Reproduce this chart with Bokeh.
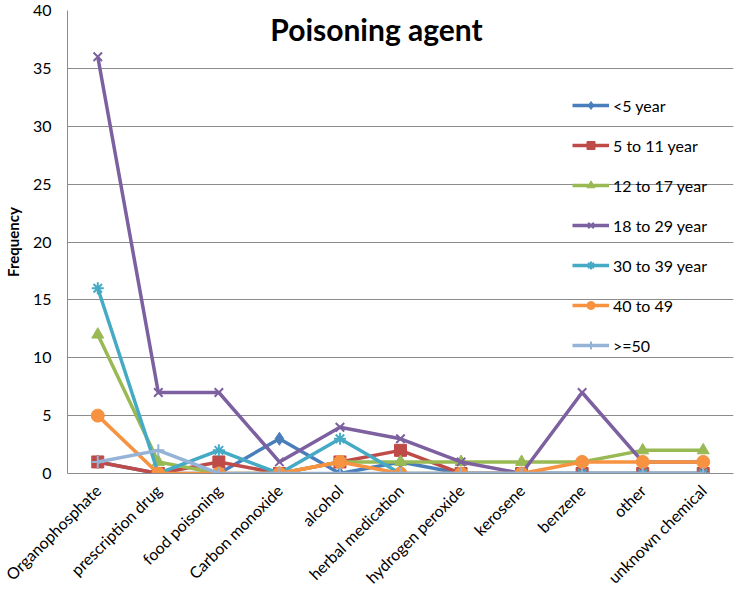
from bokeh.plotting import figure
from bokeh.models import Range1d, FactorRange, Legend, LegendItem, Label, FixedTicker
from bokeh.embed import file_html
from bokeh.resources import INLINE
import math

categories = ["Organophosphate", "prescription drug", "food poisoning", "Carbon monoxide",
              "alcohol", "herbal medication", "hydrogen peroxide", "kerosene", "benzene",
              "other", "unknown chemical"]

age_under5 = [1, 0, 0, 3, 0, 1, 0, 0, 0, 0, 0]
age_5_11 = [1, 0, 1, 0, 1, 2, 0, 0, 0, 0, 0]
age_12_17 = [12, 1, 0, 0, 1, 1, 1, 1, 1, 2, 2]
age_18_29 = [36, 7, 7, 1, 4, 3, 1, 0, 7, 1, 1]
age_30_39 = [16, 0, 2, 0, 3, 0, 0, 0, 0, 0, 0]
age_40_49 = [5, 0, 0, 0, 1, 0, 0, 0, 1, 1, 1]
age_50plus = [1, 2, 0, 0, 0, 0, 0, 0, 0, 0, 0]

y_ticks = [0, 5, 10, 15, 20, 25, 30, 35, 40]

series_names = ["<5 year", "5 to 11 year", "12 to 17 year", "18 to 29 year",
                "30 to 39 year", "40 to 49", ">=50"]
series_values = [age_under5, age_5_11, age_12_17, age_18_29, age_30_39, age_40_49, age_50plus]
colors = ["#4A7EBB", "#BE4B48", "#98B954", "#7D60A0", "#46AAC5", "#F69240", "#95B3D7"]
markers = ["diamond", "square", "triangle", "x", "asterisk", "circle", "cross"]
sizes = [13, 12, 12, 12, 12, 13, 12]

FONT = "Lato"

p = figure(width=734, height=596, x_range=FactorRange(*categories, range_padding=0),
           y_range=Range1d(0, 40), output_backend="svg", toolbar_location=None,
           min_border_left=55, min_border_right=1, min_border_top=10, min_border_bottom=100)
p.outline_line_color = None
p.background_fill_color = "white"
p.border_fill_color = "white"

items = []
for name, vals, col, mk, sz in zip(series_names, series_values, colors, markers, sizes):
    r1 = p.line(categories, vals, line_color=col, line_width=3.5)
    lw = 2 if mk in ("x", "asterisk", "cross") else 1
    r2 = p.scatter(categories, vals, marker=mk, size=sz, fill_color=col, line_color=col, line_width=lw)
    items.append(LegendItem(label=name, renderers=[r1, r2]))

legend = Legend(items=items, location=(505, 118), spacing=20, glyph_width=37, glyph_height=20,
                label_standoff=4, padding=10, border_line_color=None, background_fill_alpha=0,
                label_text_font=FONT, label_text_font_size="16px", label_text_color="#000000")
p.add_layout(legend)

p.yaxis.ticker = FixedTicker(ticks=y_ticks)
p.ygrid.ticker = FixedTicker(ticks=y_ticks)
p.ygrid.grid_line_color = "#8C8C8C"
p.ygrid.grid_line_width = 1
p.xgrid.grid_line_color = None

p.yaxis.axis_line_color = "#8C8C8C"
p.yaxis.major_tick_line_color = None
p.yaxis.minor_tick_line_color = None
p.yaxis.major_label_text_font = FONT
p.yaxis.major_label_text_font_size = "16px"
p.yaxis.major_label_text_color = "#000000"
p.yaxis.major_label_standoff = 10
p.yaxis.axis_label = "Frequency"
p.yaxis.axis_label_text_font = FONT
p.yaxis.axis_label_text_font_size = "15px"
p.yaxis.axis_label_text_font_style = "bold"
p.yaxis.axis_label_text_color = "#000000"
p.yaxis.axis_label_standoff = 8

p.xaxis.axis_line_color = "#8C8C8C"
p.xaxis.major_tick_line_color = None
p.xaxis.minor_tick_line_color = None
p.xaxis.major_label_text_font = FONT
p.xaxis.major_label_text_font_size = "16px"
p.xaxis.major_label_text_color = "#000000"
p.xaxis.major_label_orientation = math.radians(45)
p.xaxis.major_label_standoff = 8

title = Label(x=309, y=445, x_units="screen", y_units="screen", text="Poisoning agent",
              text_font=FONT, text_font_size="30px", text_font_style="bold",
              text_color="#000000", text_align="center", text_baseline="middle")
p.add_layout(title)

open("out.html", "w").write(file_html(p, INLINE))
